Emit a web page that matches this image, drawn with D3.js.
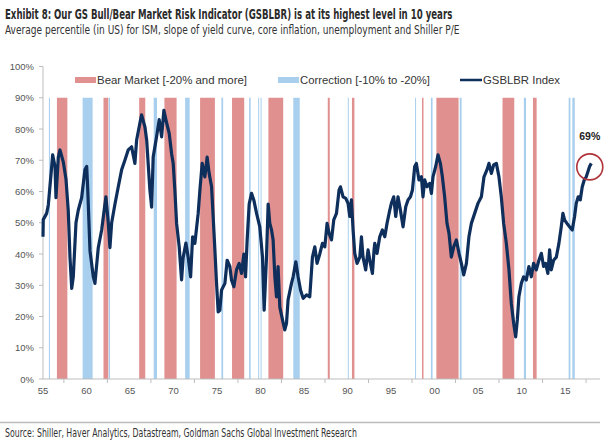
<!DOCTYPE html>
<html><head><meta charset="utf-8">
<script src="https://cdn.jsdelivr.net/npm/d3@7"></script>
<style>body{margin:0;background:#fff}svg{display:block}</style>
</head><body>
<svg id="c" width="608" height="441"></svg>
<script>
const titleText = "Exhibit 8: Our GS Bull/Bear Market Risk Indicator (GSBLBR) is at its highest level in 10 years";
const subtitleText = "Average percentile (in US) for ISM, slope of yield curve, core inflation, unemployment and Shiller P/E";
const sourceText = "Source: Shiller, Haver Analytics, Datastream, Goldman Sachs Global Investment Research";
const legendLabels = ["Bear Market [-20% and more]", "Correction [-10% to -20%]", "GSBLBR Index"];
const yTicks = [0,10,20,30,40,50,60,70,80,90,100];
const xTickValues = [1955,1960,1965,1970,1975,1980,1985,1990,1995,2000,2005,2010,2015];
const xTickLabels = ["55","60","65","70","75","80","85","90","95","00","05","10","15"];
const xTickMarks = [1957.4,1962.4,1967.4,1972.4,1977.4,1982.4,1987.4,1992.4,1997.4,2002.4,2007.4,2012.4,2017.4];
const bearMarkets = [[1956.6,1957.8],[1961.95,1962.5],[1966.05,1966.75],[1968.95,1970.35],[1973.05,1974.75],[1976.72,1978.12],[1980.9,1982.6],[1987.72,1987.95],[1990.5,1990.78],[1998.55,1998.72],[2000.2,2002.75],[2007.8,2009.15],[2011.3,2011.72]];
const corrections = [[1955.68,1955.8],[1959.55,1960.7],[1962.55,1962.7],[1967.72,1968.1],[1971.33,1971.85],[1975.5,1975.7],[1978.68,1978.86],[1979.72,1979.82],[1980.0,1980.1],[1983.76,1984.5],[1990.02,1990.1],[1997.75,1997.84],[1999.57,1999.76],[2002.88,2003.1],[2010.25,2010.5],[2015.4,2015.6],[2015.82,2016.1]];
const years = [1955.00,1955.03,1955.42,1955.61,1956.00,1956.11,1956.38,1956.49,1956.76,1956.95,1957.33,1957.64,1957.90,1958.10,1958.30,1958.48,1958.79,1959.05,1959.44,1959.82,1960.02,1960.13,1960.40,1960.78,1960.97,1961.35,1961.74,1962.12,1962.23,1962.50,1962.69,1962.89,1963.27,1963.65,1964.04,1964.41,1964.79,1965.18,1965.56,1965.76,1966.14,1966.33,1966.71,1966.91,1967.28,1967.48,1967.66,1968.05,1968.35,1968.63,1968.89,1969.20,1969.50,1969.78,1969.96,1970.15,1970.35,1970.65,1970.92,1971.11,1971.42,1971.68,1971.96,1972.19,1972.45,1972.83,1973.03,1973.29,1973.60,1973.86,1974.09,1974.37,1974.55,1974.75,1974.94,1975.13,1975.32,1975.52,1975.90,1976.16,1976.47,1976.66,1976.93,1977.24,1977.54,1977.81,1978.08,1978.27,1978.46,1978.69,1978.96,1979.22,1979.54,1979.91,1980.22,1980.41,1980.68,1980.87,1981.06,1981.26,1981.44,1981.64,1981.83,1982.01,1982.21,1982.52,1982.78,1982.98,1983.16,1983.55,1983.74,1984.05,1984.31,1984.59,1984.89,1985.28,1985.65,1985.96,1986.23,1986.49,1986.80,1987.11,1987.38,1987.64,1987.87,1988.15,1988.41,1988.72,1989.02,1989.18,1989.48,1989.79,1990.05,1990.25,1990.44,1990.63,1990.82,1991.09,1991.40,1991.59,1991.77,1992.08,1992.35,1992.62,1992.85,1993.04,1993.12,1993.38,1993.69,1994.00,1994.27,1994.53,1994.84,1995.03,1995.30,1995.53,1995.79,1996.07,1996.37,1996.68,1996.94,1997.22,1997.45,1997.71,1997.90,1998.20,1998.48,1998.66,1998.86,1999.12,1999.43,1999.63,1999.81,2000.12,2000.39,2000.66,2000.89,2001.15,2001.42,2001.65,2001.92,2002.19,2002.50,2002.80,2003.07,2003.34,2003.65,2003.94,2004.22,2004.60,2004.98,2005.37,2005.67,2006.01,2006.24,2006.52,2006.78,2007.09,2007.39,2007.66,2007.93,2008.24,2008.54,2008.81,2009.08,2009.31,2009.50,2009.68,2009.96,2010.22,2010.53,2010.83,2011.11,2011.37,2011.68,2011.98,2012.26,2012.52,2012.75,2013.01,2013.21,2013.40,2013.67,2013.98,2014.28,2014.55,2014.74,2014.93,2015.20,2015.50,2015.81,2016.08,2016.27,2016.50,2016.73,2016.96,2017.19,2017.42,2017.61,2017.80,2018.00];
const values = [45.5,51,53,55.7,68,71.7,68,58,71,73.3,69.5,64,54,39,29,32.7,50,54,58,67,68,61.5,41,32.7,30.6,42,47.7,56,58.3,50,42,50,56,61.5,67,70,73.3,74.3,69,76.5,82,84.5,80.7,76.5,60.5,55,71,77.5,83,77.5,86,82,78.6,72,69,60.5,49.8,42.3,31.7,39,43.5,39,32.7,45.5,43.4,53,60.5,69,64.7,71,65.8,61.5,52,41.3,30.6,21.5,22,28.5,30.6,38,36,31.7,29.5,35,37,33.8,40,32.7,44.5,56,59.4,57.3,53,48.7,39,22,39,56,49.8,47.7,44.5,32.7,26.3,36,23,18.9,15.7,17.8,25.3,30.6,32.7,37.5,32.7,28.5,25.8,26.9,26.3,39,42.3,37,40,43.4,42.3,49.8,46.6,44.5,50.9,53,60.5,61.5,58.3,57.8,56.2,52,57.3,47.7,40.2,37,39,45.5,39,34.9,41.3,37,33.8,41.3,43.4,40.2,45.5,47.7,45.5,49.8,54,56.2,58.3,52,58.3,54,48.7,55.1,57.3,58.3,60.5,68,69,63.7,64.7,58.3,63.7,61.5,62.6,59.4,64.7,68,71.7,69,64.7,58.3,49.8,46.6,39,42.3,44.5,40.2,37,33.3,37,45.5,49.8,53,56.2,58.3,64.7,66.9,69,65.8,68.5,69,64.7,58.3,49.8,43.4,34.9,24.2,17.8,13.5,18.9,26.3,30.6,32.7,31.7,36,32.7,37,34.9,38,40.2,36,37,33.8,41.3,34.9,38,39,43.4,48.7,53,50.9,49.8,48.7,47.7,52,56.2,58.3,57.3,61.5,63.7,64.7,66.3,68,69];
const lastLabel = "69%";

const svg = d3.select("#c");
const x = d3.scaleLinear().domain([1955, 2019]).range([43, 600]);
const y = d3.scaleLinear().domain([0, 100]).range([379, 66.5]);
const narrow = "'Liberation Sans Narrow','DejaVu Sans Condensed','Arial Narrow',sans-serif";
const sans = "'Liberation Sans',Arial,sans-serif";

// condensed text: render naturally then squeeze horizontally with a transform
function squeezed(parent, tx, ty, target, attrs, str) {
  const g = parent.append("g");
  const t = g.append("text").attr("x",0).attr("y",0);
  Object.entries(attrs).forEach(([k,v]) => t.attr(k,v));
  t.text(str);
  const w = t.node().getComputedTextLength();
  g.attr("transform", `translate(${tx},${ty}) scale(${target/w},1)`);
  return g;
}

squeezed(svg, 5, 19, 448, {"font-family":narrow,"font-weight":"bold","font-size":14,"fill":"#2b2b2b"}, titleText);
squeezed(svg, 5, 33.5, 455, {"font-family":narrow,"font-size":13,"fill":"#333"}, subtitleText);

// bands
const band = (arr, col) => svg.append("g").selectAll("rect").data(arr).join("rect")
  .attr("x", d => x(d[0])).attr("width", d => Math.max(1, x(d[1]) - x(d[0])))
  .attr("y", y(90)).attr("height", y(0) - y(90)).attr("fill", col);
band(corrections, "#a9cfee");
band(bearMarkets, "#e0908f");

// axes
svg.append("line").attr("x1",x(1955)).attr("x2",x(1955)).attr("y1",y(100)).attr("y2",y(0)).attr("stroke","#bdbdbd");
svg.append("line").attr("x1",x(1955)).attr("x2",x(2019)).attr("y1",y(0)).attr("y2",y(0)).attr("stroke","#bdbdbd");
svg.append("g").selectAll("line").data(yTicks).join("line")
  .attr("x1",39).attr("x2",43).attr("y1",d=>y(d)).attr("y2",d=>y(d)).attr("stroke","#bdbdbd");
svg.append("g").selectAll("text").data(yTicks).join("text")
  .attr("x",34).attr("y",d=>y(d)+3.5).attr("text-anchor","end").attr("font-family",sans)
  .attr("font-size",9.5).attr("fill","#555").text(d=>d+"%");
svg.append("g").selectAll("line").data(xTickMarks).join("line")
  .attr("x1",d=>x(d)).attr("x2",d=>x(d)).attr("y1",y(0)).attr("y2",y(0)+4).attr("stroke","#bdbdbd");
svg.append("g").selectAll("text").data(xTickValues).join("text")
  .attr("x",d=>x(d)).attr("y",394).attr("text-anchor","middle").attr("font-family",sans)
  .attr("font-size",9.5).attr("fill","#555").text((d,i)=>xTickLabels[i]);

// line
const pts = years.map((yr,i)=>[yr, values[i]]);
svg.append("path").datum(pts).attr("fill","none").attr("stroke","#0e2e5c").attr("stroke-width",3.2)
  .attr("stroke-linejoin","round").attr("d", d3.line().x(d=>x(d[0])).y(d=>y(d[1])));

// highlight
const last = pts[pts.length-1];
svg.append("circle").attr("cx",x(last[0])-1.5).attr("cy",y(last[1])+3.5).attr("r",13)
  .attr("fill","none").attr("stroke","#b0343a").attr("stroke-width",1.6);
svg.append("text").attr("x",x(last[0])-1.5).attr("y",y(last[1])-23).attr("text-anchor","middle")
  .attr("font-family",sans).attr("font-weight","bold").attr("font-size",10.5).attr("fill","#222").text(lastLabel);

// legend
const lg = svg.append("g").attr("font-family",sans).attr("font-size",11).attr("fill","#333");
lg.append("rect").attr("x",75).attr("y",77).attr("width",21).attr("height",6).attr("fill","#e0908f");
lg.append("text").attr("x",97).attr("y",84).attr("textLength",150).attr("lengthAdjust","spacingAndGlyphs").text(legendLabels[0]);
lg.append("rect").attr("x",278).attr("y",77).attr("width",21).attr("height",6).attr("fill","#a9cfee");
lg.append("text").attr("x",300).attr("y",84).attr("textLength",130).attr("lengthAdjust","spacingAndGlyphs").text(legendLabels[1]);
lg.append("line").attr("x1",460).attr("x2",482).attr("y1",80).attr("y2",80).attr("stroke","#0e2e5c").attr("stroke-width",2.5);
lg.append("text").attr("x",483).attr("y",84).attr("textLength",77).attr("lengthAdjust","spacingAndGlyphs").text(legendLabels[2]);

// footer
svg.append("line").attr("x1",0).attr("x2",600).attr("y1",422.5).attr("y2",422.5).attr("stroke","#bbb").attr("stroke-width",1.5);
squeezed(svg, 5, 437, 352, {"font-family":narrow,"font-size":11.5,"fill":"#333"}, sourceText);
</script>
</body></html>
